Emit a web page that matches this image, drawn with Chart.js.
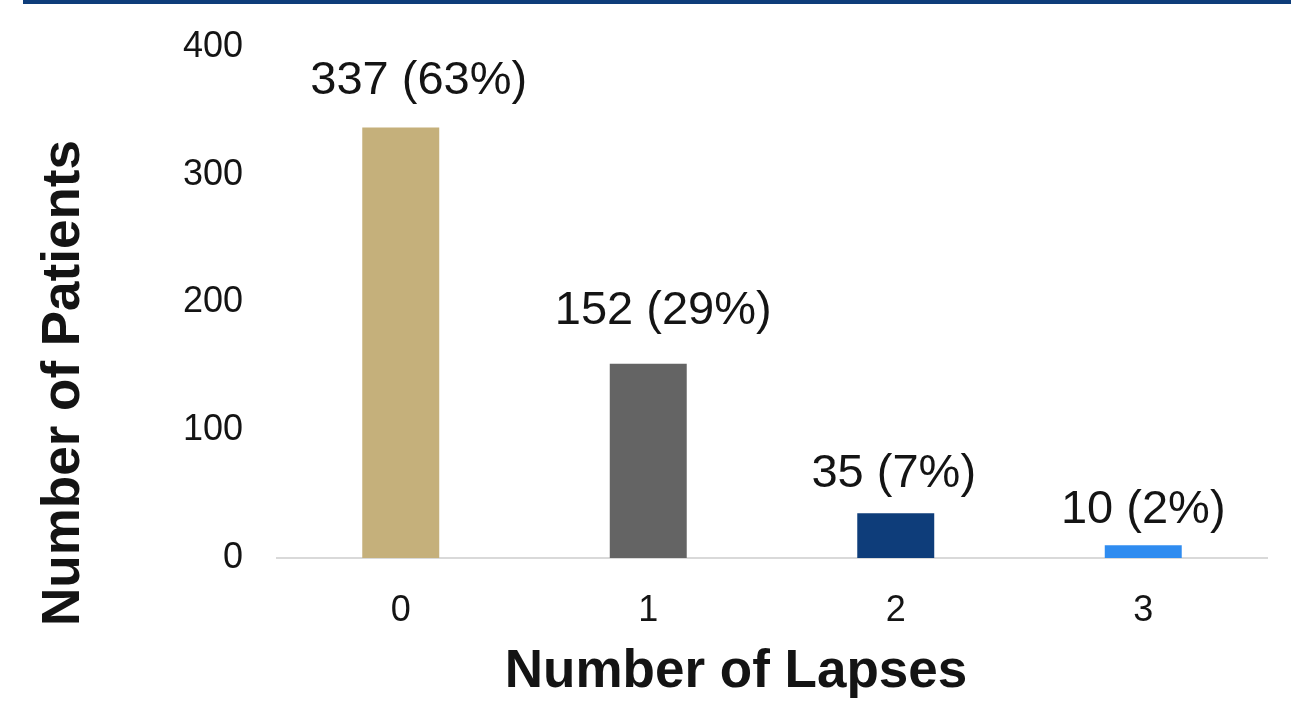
<!DOCTYPE html>
<html>
<head>
<meta charset="utf-8">
<script src="https://cdn.jsdelivr.net/npm/chart.js@4/dist/chart.umd.min.js"></script>
<style>
  html, body { margin: 0; padding: 0; background: #ffffff; }
  #wrap { position: relative; width: 1291px; height: 702px; overflow: hidden; }
  #topbar { position: absolute; left: 23px; top: 0; width: 1268px; height: 4px; background: #0e3d7a; }
  canvas { position: absolute; left: 0; top: 0; }
</style>
</head>
<body>
<div id="wrap">
  <canvas id="c" width="1291" height="702"></canvas>
  <div id="topbar"></div>
</div>
<script>
const categories = ['0', '1', '2', '3'];
const patients = [337, 152, 35, 10];
const percentLabels = ['63%', '29%', '7%', '2%'];
const barColors = ['#c5b07b', '#646464', '#0e3d7a', '#2f8cf0'];
const yTicks = [0, 100, 200, 300, 400];
const xTitle = 'Number of Lapses';
const yTitle = 'Number of Patients';

const FONT = '"Liberation Sans", Arial, Helvetica, sans-serif';
const TEXT = '#141414';

// label placement (horizontal shift, gap above bar top to baseline)
const labelShift = [18, 15, -2, 0];
const labelGap = [33, 40, 26, 22];

const labelPlugin = {
  id: 'barLabels',
  afterDatasetsDraw(chart) {
    const ctx = chart.ctx;
    const meta = chart.getDatasetMeta(0);
    ctx.save();
    ctx.font = '47px ' + FONT;
    ctx.fillStyle = TEXT;
    ctx.textAlign = 'center';
    ctx.textBaseline = 'alphabetic';
    meta.data.forEach((bar, i) => {
      const txt = patients[i] + ' (' + percentLabels[i] + ')';
      ctx.fillText(txt, bar.x + labelShift[i], bar.y - labelGap[i]);
    });
    ctx.restore();
  }
};

const titlePlugin = {
  id: 'axisTitles',
  afterDraw(chart) {
    const ctx = chart.ctx;
    ctx.save();
    ctx.font = 'bold 53px ' + FONT;
    ctx.fillStyle = TEXT;
    ctx.textAlign = 'center';
    ctx.textBaseline = 'alphabetic';
    ctx.fillText(xTitle, 736, 687);
    ctx.translate(79, 383);
    ctx.rotate(-Math.PI / 2);
    ctx.fillText(yTitle, 0, 0);
    ctx.restore();
  }
};

new Chart(document.getElementById('c'), {
  type: 'bar',
  data: {
    labels: categories,
    datasets: [{
      data: patients,
      backgroundColor: barColors,
      borderWidth: 0,
      categoryPercentage: 1.0,
      barPercentage: 0.311
    }]
  },
  options: {
    responsive: false,
    animation: false,
    layout: { padding: { left: 0, right: 24, top: 47, bottom: 0 } },
    plugins: {
      legend: { display: false },
      tooltip: { enabled: false }
    },
    scales: {
      x: {
        grid: { display: false, drawTicks: false },
        border: { display: true, color: '#d9d9d9', width: 2 },
        ticks: { font: { size: 36, family: FONT }, color: TEXT, padding: 31 },
        afterFit(s) { s.height = 144; }
      },
      y: {
        min: 0,
        max: 400,
        afterBuildTicks(s) { s.ticks = yTicks.map(v => ({ value: v })); },
        grid: { display: false, drawTicks: false },
        border: { display: false },
        ticks: { font: { size: 36, family: FONT }, color: TEXT, padding: 34 },
        afterFit(s) { s.width = 277; s.paddingTop = 0; s.paddingBottom = 0; }
      }
    }
  },
  plugins: [labelPlugin, titlePlugin]
});
</script>
</body>
</html>
